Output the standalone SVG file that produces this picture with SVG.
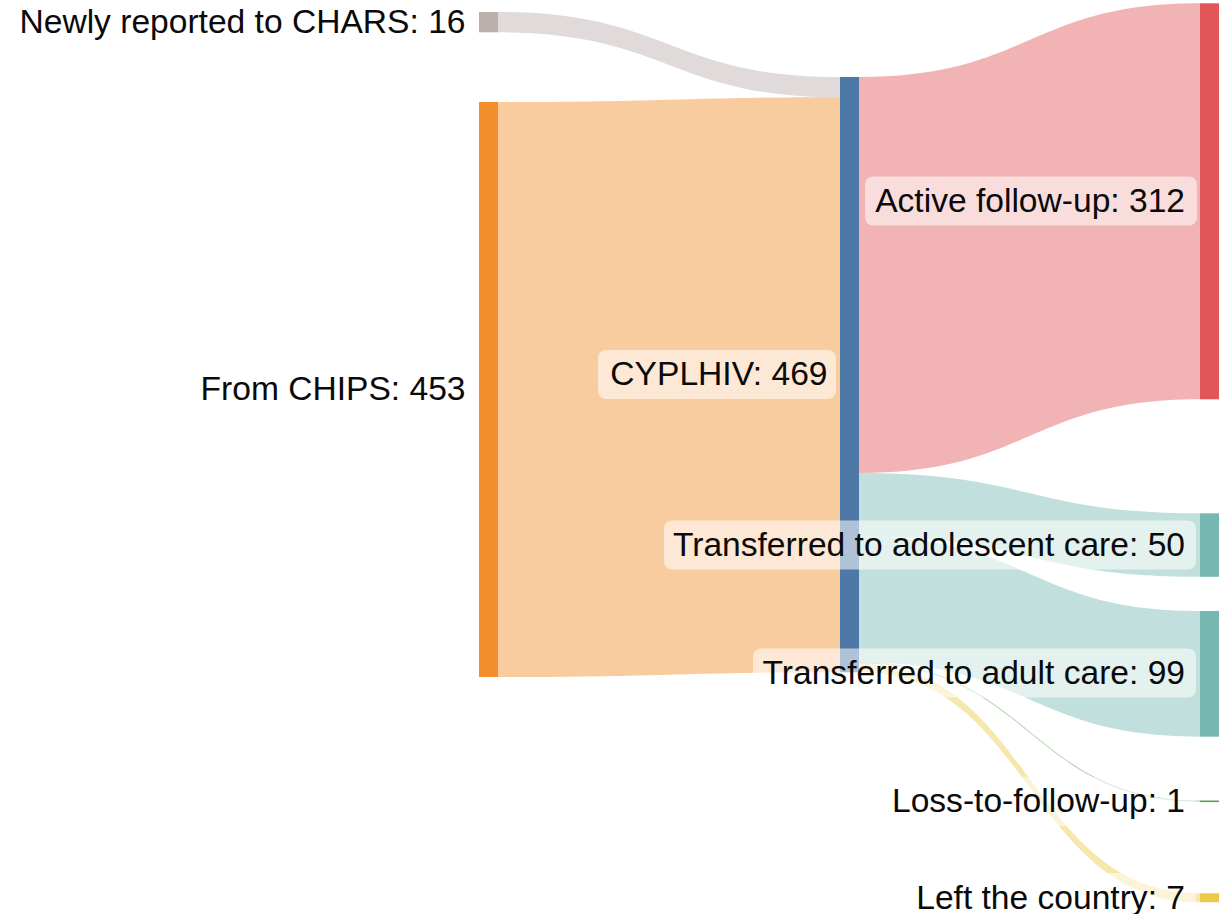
<svg xmlns="http://www.w3.org/2000/svg" width="1232" height="914" viewBox="0 0 1232 914">
  <style>
    .lbl { font-family: "Liberation Sans", Arial, sans-serif; font-size: 33.6px; fill: #0a0a0a; text-anchor: end; }
    .box { fill: #ffffff; fill-opacity: 0.55; }
    .link { fill-opacity: 0.45; stroke: none; }
  </style>
  <rect width="1232" height="914" fill="#ffffff"/>
  <g id="connectors">
    <path class="link" fill="#bab0ac" d="M498,12 C669,12 669,77 840,77 L840,97.3 C669,97.3 669,32.3 498,32.3 Z"/>
    <path class="link" fill="#f28e2b" d="M498,102 C669,102 669,97.3 840,97.3 L840,672.3 C669,672.3 669,677 498,677 Z"/>
    <path class="link" fill="#e15759" d="M859,77 C1029.5,77 1029.5,3.3 1200,3.3 L1200,399.3 C1029.5,399.3 1029.5,473 859,473 Z"/>
    <path class="link" fill="#76b7b2" d="M859,473 C1029.5,473 1029.5,513.3 1200,513.3 L1200,576.8 C1029.5,576.8 1029.5,536.5 859,536.5 Z"/>
    <path class="link" fill="#76b7b2" d="M859,536.5 C1029.5,536.5 1029.5,611 1200,611 L1200,736.7 C1029.5,736.7 1029.5,662.2 859,662.2 Z"/>
    <path class="link" fill="#59a14f" stroke="#59a14f" stroke-opacity="0.35" stroke-width="0.6" d="M859,662.2 C1029.5,662.2 1029.5,800.5 1200,800.5 L1200,801.8 C1029.5,801.8 1029.5,663.5 859,663.5 Z"/>
    <path class="link" fill="#edc948" d="M859,663.5 C1029.5,663.5 1029.5,893.3 1200,893.3 L1200,902.2 C1029.5,902.2 1029.5,672.3 859,672.3 Z"/>
  </g>
  <g id="node-newly"><rect x="479" y="12" width="19" height="20.3" fill="#bab0ac"/></g>
  <g id="node-chips"><rect x="479" y="102" width="19" height="575" fill="#f28e2b"/></g>
  <g id="node-cyplhiv"><rect x="840" y="77" width="19" height="595.3" fill="#4e79a7"/></g>
  <g id="node-active"><rect x="1200" y="3.3" width="19" height="396" fill="#e15759"/></g>
  <g id="node-adolescent"><rect x="1200" y="513.3" width="19" height="63.5" fill="#76b7b2"/></g>
  <g id="node-adult"><rect x="1200" y="611" width="19" height="125.7" fill="#76b7b2"/></g>
  <g id="node-loss"><rect x="1200" y="800.5" width="19" height="1.6" fill="#59a14f"/></g>
  <g id="node-left"><rect x="1200" y="893.3" width="19" height="8.9" fill="#edc948"/></g>
  <g id="labels">
    <g id="label-newly"><text class="lbl" x="465.5" y="32.5">Newly reported to CHARS: 16</text></g>
    <g id="label-chips"><text class="lbl" x="465.5" y="400">From CHIPS: 453</text></g>
    <g id="label-cyplhiv"><rect class="box" x="598" y="350" width="238" height="49" rx="8"/><text class="lbl" x="827.5" y="385">CYPLHIV: 469</text></g>
    <g id="label-active"><rect class="box" x="865" y="176.5" width="332" height="49" rx="8"/><text class="lbl" x="1185" y="212">Active follow-up: 312</text></g>
    <g id="label-adolescent"><rect class="box" x="664" y="520.5" width="532" height="49" rx="8"/><text class="lbl" x="1185" y="555.5">Transferred to adolescent care: 50</text></g>
    <g id="label-adult"><rect class="box" x="753" y="648.5" width="443" height="49" rx="8"/><text class="lbl" x="1185" y="684">Transferred to adult care: 99</text></g>
    <g id="label-loss"><rect class="box" x="884" y="777" width="312" height="49" rx="8"/><text class="lbl" x="1185" y="812">Loss-to-follow-up: 1</text></g>
    <g id="label-left"><rect class="box" x="908" y="873" width="288" height="49" rx="8"/><text class="lbl" x="1185" y="908.5">Left the country: 7</text></g>
  </g>
</svg>
